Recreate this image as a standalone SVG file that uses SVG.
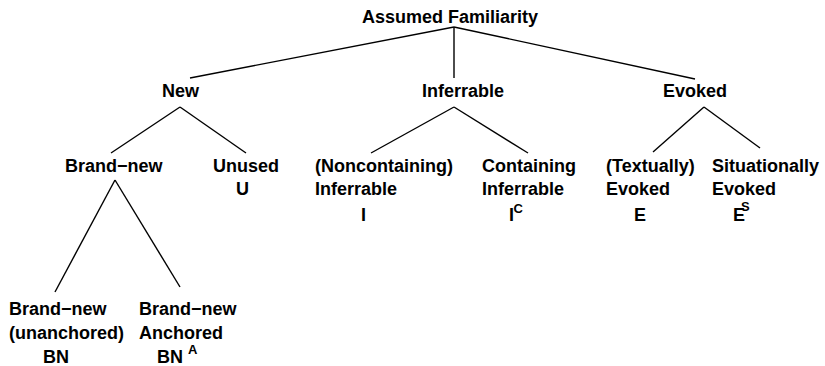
<svg xmlns="http://www.w3.org/2000/svg" width="825" height="366" viewBox="0 0 825 366">
<style>
text{font-family:"Liberation Sans",Arial,sans-serif;font-weight:bold;font-size:18px;fill:#000}
text.sup{font-size:13px}
#connectors line{stroke:#000;stroke-width:1.4;fill:none}
</style>
<rect width="825" height="366" fill="#fff"/>
<g id="connectors">
<line x1="454" y1="27" x2="190" y2="78"/>
<line x1="454" y1="27" x2="454" y2="78"/>
<line x1="454" y1="27" x2="695" y2="79"/>
<line x1="180" y1="107" x2="111" y2="153"/>
<line x1="180" y1="107" x2="246" y2="153"/>
<line x1="454" y1="107" x2="371" y2="153"/>
<line x1="454" y1="107" x2="528" y2="153"/>
<line x1="704" y1="107" x2="653" y2="152"/>
<line x1="704" y1="107" x2="760" y2="148"/>
<line x1="115" y1="180" x2="55" y2="292"/>
<line x1="115" y1="180" x2="180" y2="287"/>
</g>
<g id="root"><text x="362" y="23">Assumed Familiarity</text></g>
<g id="new"><text x="162" y="97">New</text></g>
<g id="inferrable"><text x="422" y="97">Inferrable</text></g>
<g id="evoked"><text x="663" y="97">Evoked</text></g>
<g id="brandnew"><text x="65" y="172">Brand−new</text></g>
<g id="unused"><text x="213" y="172">Unused</text><text x="236" y="195">U</text></g>
<g id="noncontaining"><text x="315" y="172">(Noncontaining)</text><text x="315" y="195">Inferrable</text><text x="361" y="221">I</text></g>
<g id="containing"><text x="482" y="172">Containing</text><text x="482" y="195">Inferrable</text><text x="509" y="221">I</text><text class="sup" x="513.5" y="213">C</text></g>
<g id="textually"><text x="606" y="172">(Textually)</text><text x="606" y="195">Evoked</text><text x="634" y="221">E</text></g>
<g id="situationally"><text x="712" y="172">Situationally</text><text x="712" y="195">Evoked</text><text x="733" y="221">E</text><text class="sup" x="741" y="211">S</text></g>
<g id="unanchored"><text x="9" y="315">Brand−new</text><text x="9" y="339">(unanchored)</text><text x="43" y="363">BN</text></g>
<g id="anchored"><text x="139" y="315">Brand−new</text><text x="139" y="339">Anchored</text><text x="157" y="363">BN</text><text class="sup" x="188" y="354">A</text></g>
</svg>
